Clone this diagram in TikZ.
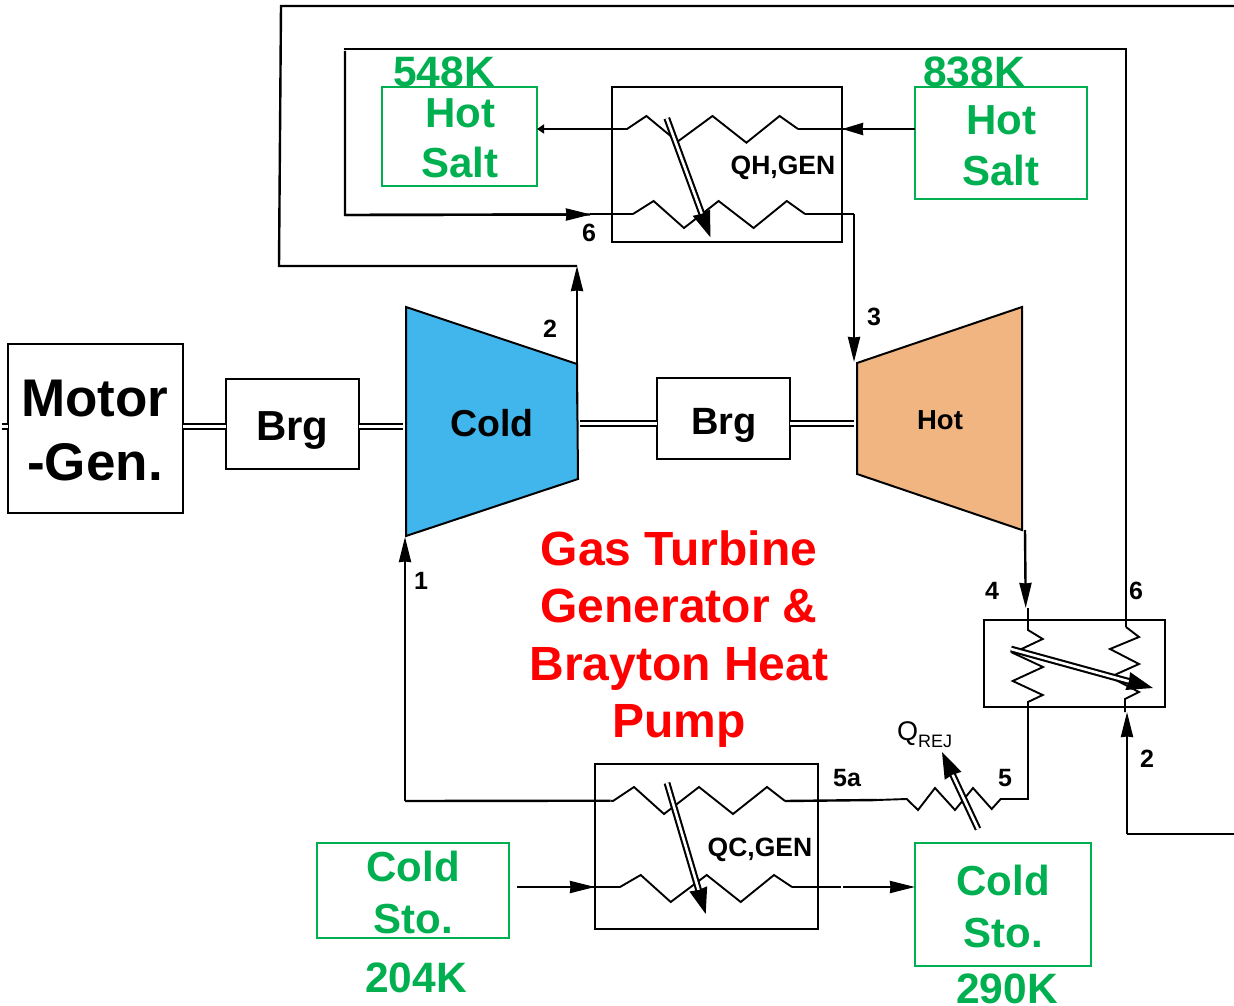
\documentclass[tikz,border=0pt]{standalone}
\usepackage{fontspec}
\setmainfont{Liberation Sans}
\usetikzlibrary{arrows.meta}
\definecolor{grn}{HTML}{00B050}
\definecolor{coldblue}{HTML}{41B6EC}
\definecolor{hotorange}{HTML}{F0B581}
\tikzset{
  x=1pt,y=-1pt,
  lab/.style={inner sep=0pt,outer sep=0pt,anchor=base,font=\bfseries\fontsize{#1}{#1}\selectfont},
  gtxt/.style={lab=#1,text=grn},
  rtxt/.style={lab=#1,text=red},
  box/.style={draw=black,line width=2pt,inner sep=0pt,outer sep=0pt},
  gbox/.style={draw=grn,line width=1.7pt,inner sep=0pt,outer sep=0pt},
  pipe/.style={draw=black,line width=2.4pt},
  zig/.style={draw=black,line width=1.9pt},
  arr/.style={pipe,-{Stealth[length=25pt,width=12pt,inset=0.5pt]}},
  tinyarr/.style={pipe,-{Stealth[length=7pt,width=9pt,inset=0pt]}},
  heat/.style={draw=black,line width=2.1pt,double=white,double distance=2.6pt,-{Stealth[length=26pt,width=18pt,inset=1pt]}},
  shaft/.style={draw=black,line width=2.3pt,double=white,double distance=2.6pt},
}
\begin{document}
\begin{tikzpicture}
\useasboundingbox (0,0) rectangle (1234,1006);
% boxes
\node[box,minimum width=175pt,minimum height=169pt] (motor) at (95.5,428.5) {};
\node[box,minimum width=133pt,minimum height=90pt] (brgA) at (292.5,423.5) {};
\node[box,minimum width=133pt,minimum height=81pt] (brgB) at (723.5,418.5) {};
\node[box,minimum width=230pt,minimum height=155pt] (hxtop) at (727,164.5) {};
\node[box,minimum width=223pt,minimum height=165pt] (hxbot) at (706.5,846.5) {};
\node[box,minimum width=180.5pt,minimum height=87pt] (hxrec) at (1074.5,663.5) {};
\node[gbox,minimum width=155pt,minimum height=99pt] (saltL) at (459.5,136.5) {};
\node[gbox,minimum width=172pt,minimum height=112pt] (saltR) at (1001,143) {};
\node[gbox,minimum width=192pt,minimum height=95pt] (stoL) at (413,890.5) {};
\node[gbox,minimum width=176pt,minimum height=123pt] (stoR) at (1003,904.5) {};
% compressor, turbine
\filldraw[fill=coldblue,draw=black,line width=2pt] (406,307) -- (577,364) -- (578,479) -- (406,536) -- cycle;
\filldraw[fill=hotorange,draw=black,line width=2pt] (857,363) -- (1022,307) -- (1022,530) -- (857,474) -- cycle;
% shaft
\coordinate (s0) at (2,426.5);
\coordinate (s1) at (183,426.5);
\coordinate (s2) at (226,426.5);
\coordinate (s3) at (359,426.5);
\coordinate (s4) at (403,426.5);
\coordinate (s5) at (580,423.5);
\coordinate (s6) at (657,423.5);
\coordinate (s7) at (790,423.5);
\coordinate (s8) at (854,423.5);
\draw[shaft] (s0) -- (s1 -| motor.west);
\draw[shaft] (s1) -- (s2);
\draw[shaft] (s3) -- (s4);
\draw[shaft] (s5) -- (s6);
\draw[shaft] (s7) -- (s8);
% top HX hot side
\coordinate (t1) at (624.6,129);
\coordinate (t2) at (798,129);
\coordinate (t3) at (633,214);
\coordinate (t4) at (805,214);
\coordinate (t5) at (854,214);
\coordinate (t6) at (854,362);
\coordinate (t7) at (345,215);
\coordinate (t8) at (345,51);
\coordinate (t9) at (1126,49);
\coordinate (t10) at (1126,627);
\draw[zig] (t1) -- (627,129) -- (646.4,116) -- (677.5,141.7) -- (712.5,116) -- (746.4,142.7) -- (779.6,116) -- (t2);
\draw[zig] (t3) -- (653.6,201) -- (684,228) -- (718.6,201) -- (753.6,228) -- (786.8,201) -- (t4);
\draw[zig] (t1) -- (595,129);
\draw[pipe,line width=2.8pt] (595,129) -- (545,129);
\draw[tinyarr] (545,129) -- (saltL.east |- t1);
\coordinate (t11) at (saltR.west |- t2);
\draw[zig] (t11) -- (t2);
\draw[pipe,line width=2.6pt,-{Stealth[length=21pt,width=12pt,inset=0.5pt]}] (t11) -- (842,129);
\draw[pipe] (t4) -- (t5);
\draw[arr] (t5) -- (t6);
\draw[pipe] (t8) -- (t7) -- (590,214.5);
\draw[zig] (590,214) -- (t3);
\draw[pipe,-{Stealth[length=25pt,width=12pt,inset=0.5pt]}] (t7) -- (591,214.5);
\draw[pipe] (343.5,49) -- (t9) -- (t10);
\draw[heat] (666.8,118.3) -- (710.4,237.3);
% second outer loop
\coordinate (o1) at (1234,6);
\coordinate (o2) at (281,6);
\coordinate (o3) at (279,266);
\coordinate (o4) at (577,266);
\coordinate (o5) at (577,404);
\draw[pipe] (o1) -- (o2) -- (o3) -- (o4);
\draw[arr] (o5) -- (o4);
% compressor inlet + cold HX
\coordinate (b1) at (610.7,800.7);
\coordinate (b2) at (785,801);
\coordinate (b3) at (405,801);
\coordinate (b4) at (405,537);
\coordinate (b5) at (877,800);
\draw[zig] (b1) -- (613,801) -- (634,787) -- (664,814) -- (699,787) -- (733,814) -- (767,787) -- (b2);
\draw[pipe] (b1) -- (b3);
\draw[arr] (b3) -- (b4);
\draw[pipe] (b2) -- (b5);
\coordinate (c1) at (617,887);
\coordinate (c2) at (792,887);
\coordinate (c3) at (517,887);
\coordinate (c4) at (840.7,887);
\coordinate (c5) at (843,887);
\draw[zig] (c1) -- (620,887) -- (640.7,875) -- (670.7,902) -- (706.7,875) -- (740.7,902) -- (774,875) -- (c2);
\draw[pipe] (c3) -- (c1);
\draw[pipe,-{Stealth[length=25pt,width=12pt,inset=0.5pt]}] (c3) -- (595,887);
\draw[pipe] (c2) -- (c4);
\draw[pipe,-{Stealth[length=25pt,width=12pt,inset=0.5pt]}] (c5) -- (stoR.west |- c5);
\draw[heat] (667,783) -- (705.7,914);
% recuperator and rejection
\coordinate (r1) at (1025,530);
\coordinate (r2) at (1025.7,608);
\coordinate (r3) at (1028,608);
\coordinate (r4) at (1028,630);
\coordinate (r5) at (1028,702);
\coordinate (r6) at (1028,799);
\coordinate (r7) at (1000.7,799);
\coordinate (r8) at (906.7,799);
\draw[arr] (r1) -- (r2);
\draw[zig] (r3) -- (r4) -- (1042.7,639) -- (1013,653) -- (1043,667) -- (1012.7,681) -- (1042.7,695) -- (r5) -- (r6) -- (r7) -- (991.7,809) -- (973,788) -- (955,810) -- (935,788) -- (918,810) -- (r8) -- (b5);
\coordinate (k1) at (1125,699);
\coordinate (k2) at (1125,712);
\coordinate (k3) at (1127,834);
\coordinate (k4) at (1234,834);
\coordinate (k5) at (1127,712);
\draw[zig] (t10) -- (1139,637) -- (1110,649) -- (1139,664) -- (1110,677) -- (1139,692) -- (k1) -- (k2);
\draw[pipe] (k4) -- (k3);
\draw[arr] (k3) -- (k5);
\draw[heat] (1011,649) -- (1153,688);
\draw[heat] (978,829) -- (942,752);
% text
\node[lab=53] (tm1) at (95,416) {Motor};
\node[lab=53] (tm2) at (95,480) {-Gen.};
\node[lab=42] (tb1) at (292.5,440) {Brg};
\node[lab=38] (tb2) at (724,434) {Brg};
\node[lab=37.5] (tc) at (492,436) {Cold};
\node[lab=27.5] (th) at (940,429) {Hot};
\node[rtxt=48] (g1) at (679,565) {Gas Turbine};
\node[rtxt=48] (g2) at (679,622) {Generator \&};
\node[rtxt=48] (g3) at (679,680) {Brayton Heat};
\node[rtxt=48] (g4) at (679,737) {Pump};
\node[gtxt=42.5] (k548) at (444,87) {548K};
\node[gtxt=42] (hl1) at (460,128) {Hot};
\node[gtxt=42] (hl2) at (460,178) {Salt};
\node[gtxt=42.5] (k838) at (974,87) {838K};
\node[gtxt=42] (hr1) at (1001,135) {Hot};
\node[gtxt=42] (hr2) at (1001,185) {Salt};
\node[gtxt=42] (cl1) at (413,881) {Cold};
\node[gtxt=42] (cl2) at (413,933) {Sto.};
\node[gtxt=42.5] (k204) at (416,992) {204K};
\node[gtxt=42] (cr1) at (1003,895) {Cold};
\node[gtxt=42] (cr2) at (1003,947) {Sto.};
\node[gtxt=42.5] (k290) at (1007,1003) {290K};
\node[lab=26.5] (qh) at (783,174) {QH,GEN};
\node[lab=26.5] (qc) at (760,856) {QC,GEN};
\node[lab=25] (n2a) at (550,337) {2};
\node[lab=25] (n6a) at (589,241) {6};
\node[lab=25] (n3) at (874,325) {3};
\node[lab=25] (n1) at (421,589) {1};
\node[lab=25] (n4) at (992,599) {4};
\node[lab=25] (n6b) at (1136,599) {6};
\node[lab=25] (n5) at (1005,786) {5};
\node[lab=25] (n5a) at (847,786) {5a};
\node[lab=25] (n2b) at (1147,767) {2};
\node[inner sep=0pt,anchor=base west,font=\fontsize{27}{27}\selectfont] (qrej) at (897,740) {Q\raisebox{-7pt}{\fontsize{18}{18}\selectfont REJ}};
\end{tikzpicture}
\end{document}
